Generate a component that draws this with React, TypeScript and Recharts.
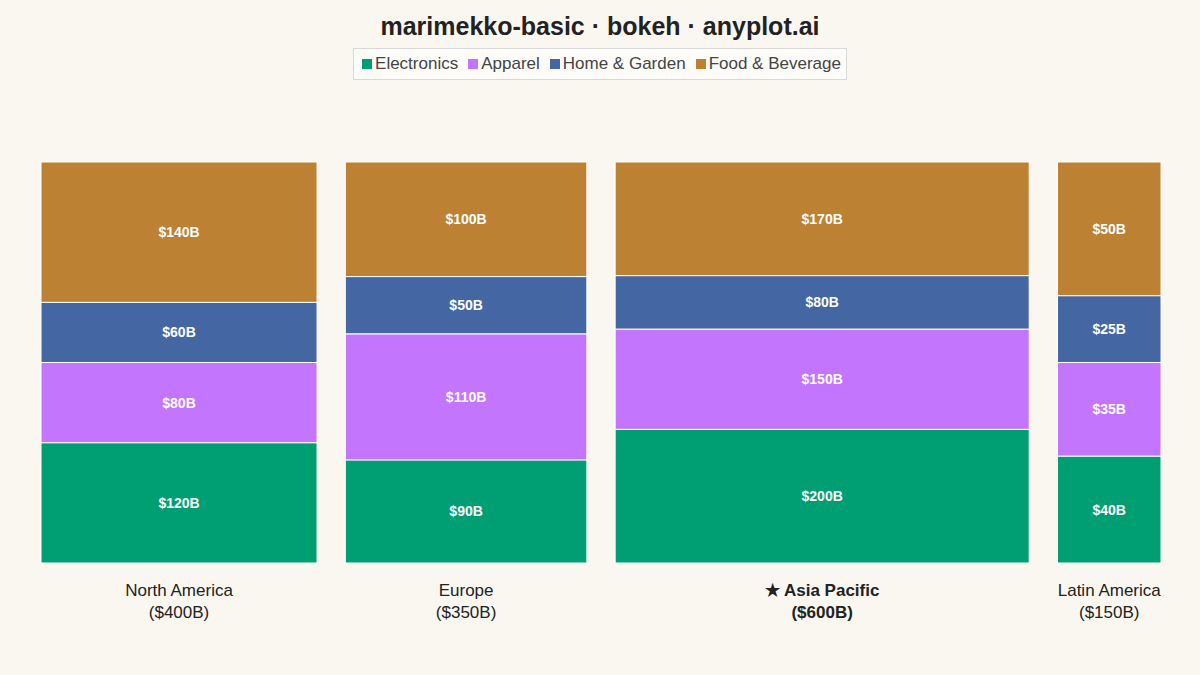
import { ComposedChart, ReferenceArea, XAxis, YAxis } from "recharts"

const regions = ["North America", "Europe", "Asia Pacific", "Latin America"]
const highlight = "Asia Pacific"
const categories = ["Electronics", "Apparel", "Home & Garden", "Food & Beverage"]
const colors = ["#009E73", "#C475FD", "#4467A3", "#BD8133"]

// market size per segment, $B
const electronics = [120, 90, 200, 40]
const apparel = [80, 110, 150, 35]
const homeGarden = [60, 50, 80, 25]
const foodBeverage = [140, 100, 170, 50]

const series = [electronics, apparel, homeGarden, foodBeverage]
const GAP = 41

const totals = regions.map((_, i) => series.reduce((s, arr) => s + arr[i], 0))
const starts = totals.map((_, i) => totals.slice(0, i).reduce((a, b) => a + b, 0) + i * GAP)
const xMax = starts[starts.length - 1] + totals[totals.length - 1]
const centers = starts.map((s, i) => s + totals[i] / 2)

const cells = regions.flatMap((region, i) => {
    let acc = 0
    return series.map((arr, k) => {
        const y1 = (acc / totals[i]) * 100
        acc += arr[i]
        const y2 = (acc / totals[i]) * 100
        return { key: region + k, x1: starts[i], x2: starts[i] + totals[i], y1, y2, fill: colors[k], label: `$${arr[i]}B` }
    })
})

const font = "'Liberation Sans', Arial, Helvetica, sans-serif"

function RegionTick(props: any) {
    const { x, y, payload } = props
    const i = centers.indexOf(payload.value)
    const name = regions[i]
    const bold = name === highlight
    return (
        <g>
            <text x={x} y={y} textAnchor="middle" fontFamily={font} fontSize={17} fill="#222" fontWeight={bold ? "bold" : "normal"}>
                <tspan x={x} dy={25}>{bold ? `★ ${name}` : name}</tspan>
                <tspan x={x} dy={22}>{`($${totals[i]}B)`}</tspan>
            </text>
        </g>
    )
}

export default function App() {
    return (
        <div style={{ position: "absolute", left: 0, top: 0, width: 1200, height: 675, background: "#FAF7F1", fontFamily: font }}>
            <div style={{ position: "absolute", top: 12, width: 1200, textAlign: "center", fontSize: 25, fontWeight: "bold", color: "#222" }}>
                marimekko-basic · bokeh · anyplot.ai
            </div>
            <div style={{ position: "absolute", top: 48, left: 0, width: 1200, display: "flex", justifyContent: "center" }}>
                <div style={{ display: "flex", alignItems: "center", gap: 10, height: 30, padding: "0 5px 0 8px", border: "1px solid #d9d9d9", background: "#FDFCF9" }}>
                    {categories.map((c, k) => (
                        <div key={c} style={{ display: "flex", alignItems: "center", gap: 3, fontSize: 17, color: "#444" }}>
                            <span style={{ width: 10, height: 10, background: colors[k], display: "inline-block" }} />
                            {c}
                        </div>
                    ))}
                </div>
            </div>
            <div style={{ position: "absolute", left: 0, top: 0 }}>
                <ComposedChart width={1200} height={675} margin={{ top: 162, right: 39, bottom: 42, left: 41 }}>
                    <XAxis
                        type="number"
                        dataKey="x"
                        domain={[0, xMax]}
                        ticks={centers}
                        interval={0}
                        tick={<RegionTick />}
                        axisLine={false}
                        tickLine={false}
                        height={70}
                        allowDataOverflow
                    />
                    <YAxis type="number" domain={[0, 100]} hide allowDataOverflow />
                    {cells.map((c) => (
                        <ReferenceArea
                            key={c.key}
                            x1={c.x1}
                            x2={c.x2}
                            y1={c.y1}
                            y2={c.y2}
                            fill={c.fill}
                            fillOpacity={1}
                            stroke="#ffffff"
                            strokeWidth={1}
                            label={{ value: c.label, position: "center", fill: "#ffffff", fontSize: 14, fontWeight: "bold", fontFamily: font }}
                        />
                    ))}
                </ComposedChart>
            </div>
        </div>
    )
}
